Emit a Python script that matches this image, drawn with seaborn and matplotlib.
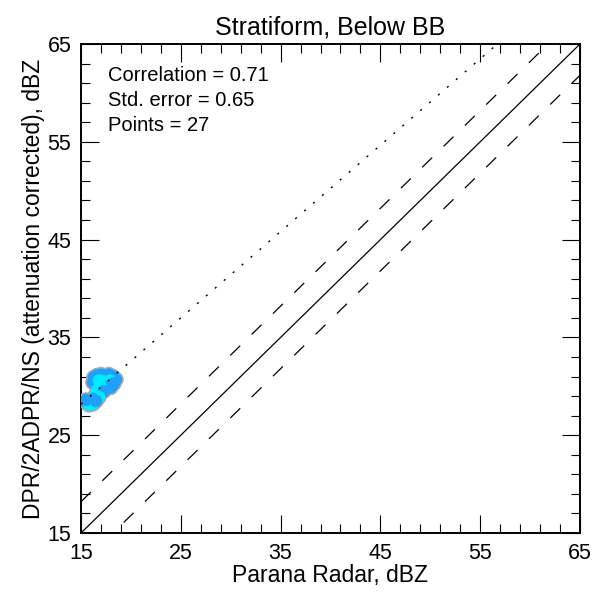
import numpy as np
import pandas as pd
import matplotlib
matplotlib.use("Agg")
import matplotlib.pyplot as plt
import seaborn as sns

# ---- data ----
radar_dbz = [16.3, 16.6, 17.0, 17.4, 17.8, 18.2, 18.5, 16.2, 16.8, 17.3, 17.9, 18.3, 17.6, 18.0,
             17.0, 16.6, 16.9, 17.3, 16.4, 16.8, 15.6, 15.9, 16.2, 15.8, 16.2, 16.5, 15.5]
dpr_dbz = [30.9, 31.1, 31.2, 31.0, 31.2, 31.0, 30.7, 30.4, 30.6, 30.5, 30.6, 30.3, 29.9, 29.9,
           30.0, 29.6, 29.3, 29.5, 29.0, 28.9, 28.3, 28.5, 28.7, 28.1, 28.2, 28.5, 28.6]
density = ["blue", "blue", "blue", "blue", "blue", "blue", "blue", "blue", "cyan", "cyan", "cyan", "blue",
           "blue", "blue", "cyan", "cyan", "cyan", "blue", "cyan", "cyan", "blue", "cyan", "blue",
           "cyan", "cyan", "blue", "blue"]
fit_slope = 0.883
fit_intercept = 14.92
band_offset = 3.2
axis_range = [15, 65]
major_ticks = [15, 25, 35, 45, 55, 65]
stats_text = ["Correlation = 0.71", "Std. error = 0.65", "Points = 27"]
title = "Stratiform, Below BB"
xlabel = "Parana Radar, dBZ"
ylabel = "DPR/2ADPR/NS (attenuation corrected), dBZ"

df = pd.DataFrame({"x": radar_dbz, "y": dpr_dbz, "d": density})

sns.set_theme(style="white")
plt.rcParams["font.family"] = ["Liberation Sans", "DejaVu Sans"]
plt.rcParams["lines.scale_dashes"] = False
plt.rcParams["text.color"] = "black"
plt.rcParams["axes.labelcolor"] = "black"
plt.rcParams["xtick.color"] = "black"
plt.rcParams["ytick.color"] = "black"

fig = plt.figure(figsize=(5.95, 5.97), dpi=100)
ax = fig.add_axes([81 / 595, (597 - 533) / 597, (580 - 81) / 595, (533 - 44) / 597])

# reference lines
xs = np.array(axis_range, dtype=float)
ax.plot(xs, xs, color="black", lw=0.9, zorder=2)
ax.plot(xs, xs + band_offset, color="black", lw=0.9, ls=(0, (10, 11.5)), zorder=2)
ax.plot(xs, xs - band_offset, color="black", lw=0.9, ls=(0, (10, 11.5)), zorder=2)

# scatter: gray halo then coloured discs
sns.scatterplot(data=df, x="x", y="y", color="#a8a8a8", s=125, edgecolor="none",
                legend=False, ax=ax, zorder=3)
sns.scatterplot(data=df, x="x", y="y", hue="d",
                palette={"blue": "#1ea0ff", "cyan": "#00eaff"},
                s=80, edgecolor="none", legend=False, ax=ax, zorder=4)

# regression (dotted)
ax.plot(xs, fit_slope * xs + fit_intercept, color="black", lw=1.0,
        ls=(0, (1.5, 7)), zorder=5)

ax.set_xlim(axis_range)
ax.set_ylim(axis_range)
ax.set_xticks(major_ticks)
ax.set_yticks(major_ticks)
ax.set_xticks(np.arange(15, 66, 2), minor=True)
ax.set_yticks(np.arange(15, 66, 2), minor=True)
ax.tick_params(which="major", direction="in", length=13, width=0.8, color="black",
               top=True, right=True, bottom=True, left=True, labelsize=15.5, pad=7,
               labelcolor="black")
ax.tick_params(which="minor", direction="in", length=6.5, width=0.8, color="black",
               top=True, right=True, bottom=True, left=True)
for sp in ax.spines.values():
    sp.set_color("black")
    sp.set_linewidth(1.4)

ax.set_xlabel(xlabel, fontsize=16.5, labelpad=0, color="black")
ax.set_ylabel(ylabel, fontsize=16.5, labelpad=2, color="black")
ax.set_title(title, fontsize=18, pad=7, color="black")

for i, t in enumerate(stats_text):
    ax.text(0.055, 0.935 - i * 0.051, t, transform=ax.transAxes, fontsize=14.5,
            va="center", ha="left", color="black")

fig.savefig("out.png", dpi=100)
